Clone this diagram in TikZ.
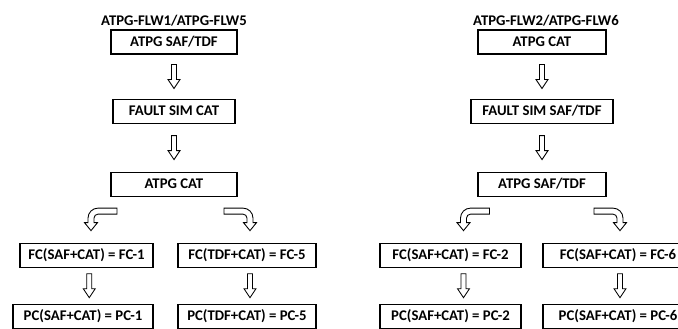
\documentclass[tikz,border=0pt]{standalone}
\usepackage{fontspec}
\setmainfont{Carlito}
\usepackage{tikz}
\usetikzlibrary{positioning}
\usetikzlibrary{calc}
\tikzset{
  stepbox/.style={draw, line width=0.6pt, minimum height=0.48cm, inner sep=1pt, font=\bfseries\fontsize{8.4}{10}\selectfont},
  flowtitle/.style={inner sep=1pt, font=\bfseries\fontsize{8.4}{10}\selectfont},
  droparrow/.pic={\draw[line width=0.5pt] (-0.05,0.48) -- (0.05,0.48) -- (0.05,0.18) -- (0.12,0.18) -- (0,0) -- (-0.12,0.18) -- (-0.05,0.18) -- cycle;},
  bendarrow/.pic={\draw[line width=0.5pt] (0.52,0.45) -- (0.14,0.45) to[out=180,in=90] (-0.06,0.25) -- (-0.06,0.16) -- (-0.13,0.16) -- (0,0) -- (0.13,0.16) -- (0.06,0.16) -- (0.06,0.25) to[out=90,in=180] (0.14,0.33) -- (0.52,0.33) -- cycle;}
}

\begin{document}
\begin{tikzpicture}
    \useasboundingbox (0,0) rectangle (13.56,-6.58);

    \node[stepbox, minimum width=2.52cm] (saf1) at (3.48,-0.84) {ATPG SAF/TDF};
    \node[flowtitle, above=0.03cm of saf1] (title1) {ATPG-FLW1/ATPG-FLW5};
    \node[stepbox, minimum width=2.44cm, below=0.88cm of saf1] (sim1) {FAULT SIM CAT};
    \node[stepbox, minimum width=2.52cm, below=0.96cm of sim1] (cat1) {ATPG CAT};
    \node[stepbox, minimum width=2.66cm, below=0.92cm of cat1, xshift=-1.75cm] (fc1) {FC(SAF+CAT) = FC-1};
    \node[stepbox, minimum width=2.76cm, below=0.92cm of cat1, xshift=1.46cm] (fc5) {FC(TDF+CAT) = FC-5};
    \node[stepbox, minimum width=2.8cm, below=0.72cm of fc1, xshift=-0.07cm] (pc1) {PC(SAF+CAT) = PC-1};
    \node[stepbox, minimum width=2.76cm, below=0.72cm of fc5] (pc5) {PC(TDF+CAT) = PC-5};

    \node[stepbox, minimum width=2.56cm] (cat2) at (10.84,-0.84) {ATPG CAT};
    \node[flowtitle, above=0.03cm of cat2, xshift=0.08cm] (title2) {ATPG-FLW2/ATPG-FLW6};
    \node[stepbox, minimum width=2.84cm, below=0.88cm of cat2] (sim2) {FAULT SIM SAF/TDF};
    \node[stepbox, minimum width=2.56cm, below=0.96cm of sim2] (saf2) {ATPG SAF/TDF};
    \node[stepbox, minimum width=2.82cm, below=0.92cm of saf2, xshift=-1.83cm] (fc2) {FC(SAF+CAT) = FC-2};
    \node[stepbox, minimum width=3.0cm, below=0.92cm of saf2, xshift=1.52cm] (fc6) {FC(SAF+CAT) = FC-6};
    \node[stepbox, minimum width=2.82cm, below=0.72cm of fc2] (pc2) {PC(SAF+CAT) = PC-2};
    \node[stepbox, minimum width=3.0cm, below=0.72cm of fc6] (pc6) {PC(SAF+CAT) = PC-6};

    \pic at ($(saf1.south)!0.5!(sim1.north)+(0,-0.24cm)$) {droparrow};
    \pic at ($(sim1.south)!0.5!(cat1.north)+(0,-0.24cm)$) {droparrow};
    \pic at ($(fc1.north)+(0.09cm,0.24cm)$) {bendarrow};
    \pic[xscale=-1] at ($(fc5.north)+(0.06cm,0.24cm)$) {bendarrow};
    \pic at ($(fc1.south)!0.5!(pc1.north)+(0.09cm,-0.24cm)$) {droparrow};
    \pic at ($(fc5.south)!0.5!(pc5.north)+(0.06cm,-0.24cm)$) {droparrow};

    \pic at ($(cat2.south)!0.5!(sim2.north)+(0,-0.24cm)$) {droparrow};
    \pic at ($(sim2.south)!0.5!(saf2.north)+(0,-0.24cm)$) {droparrow};
    \pic at ($(fc2.north)+(0.26cm,0.24cm)$) {bendarrow};
    \pic[xscale=-1] at ($(fc6.north)+(0.04cm,0.24cm)$) {bendarrow};
    \pic at ($(fc2.south)!0.5!(pc2.north)+(0.26cm,-0.24cm)$) {droparrow};
    \pic at ($(fc6.south)!0.5!(pc6.north)+(0.04cm,-0.24cm)$) {droparrow};
\end{tikzpicture}
\end{document}
